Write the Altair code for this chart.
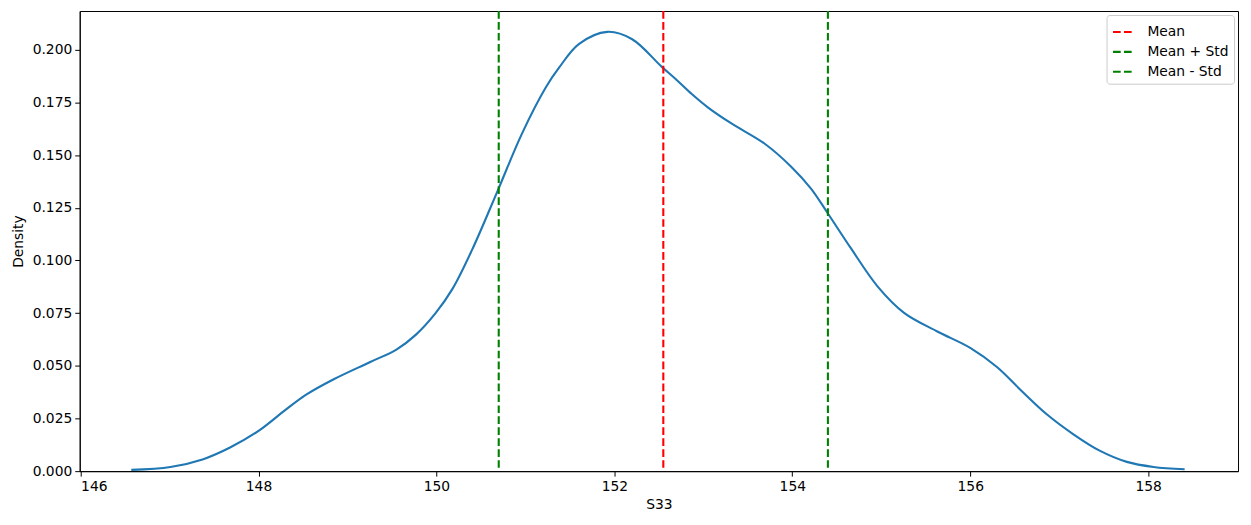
import altair as alt
import pandas as pd

# KDE curve of S33
s33 = [146.57, 147.01, 147.38, 147.68, 148.00, 148.31, 148.54, 148.84, 149.25,
       149.55, 149.77, 149.99, 150.18, 150.40, 150.69, 150.96, 151.23, 151.38,
       151.60, 151.92, 152.20, 152.53, 152.70, 152.87, 153.05, 153.32, 153.69,
       153.99, 154.21, 154.40, 154.66, 154.96, 155.26, 155.63, 156.00, 156.30,
       156.56, 156.86, 157.16, 157.46, 157.76, 158.06, 158.41]
density = [0.0006, 0.0020, 0.0057, 0.0112, 0.0191, 0.0293, 0.0364, 0.0435, 0.0517,
           0.0577, 0.0648, 0.0750, 0.0865, 0.1050, 0.1333, 0.1601, 0.1822, 0.1916,
           0.2027, 0.2085, 0.2050, 0.1920, 0.1857, 0.1790, 0.1727, 0.1649, 0.1554,
           0.1444, 0.1341, 0.1223, 0.1057, 0.0876, 0.0750, 0.0663, 0.0585, 0.0494,
           0.0388, 0.0270, 0.0175, 0.0096, 0.0044, 0.0020, 0.0009]

line_names = ["Mean", "Mean + Std", "Mean - Std"]
line_values = [152.55, 154.40, 150.70]
line_colors = ["red", "green", "green"]

x_ticks = [146, 148, 150, 152, 154, 156, 158]
y_ticks = [0.0, 0.025, 0.05, 0.075, 0.1, 0.125, 0.15, 0.175, 0.2]

kde_df = pd.DataFrame({"S33": s33, "Density": density})
rules_df = pd.DataFrame({"name": line_names, "value": line_values})

FONT = "DejaVu Sans"
FS = 13.9
xscale = alt.Scale(domain=[145.99, 159.01], nice=False, zero=False)
yscale = alt.Scale(domain=[0, 0.2184], nice=False)

curve = alt.Chart(kde_df).mark_line(
    color="#1f77b4", strokeWidth=2.1, interpolate="catmull-rom"
).encode(
    x=alt.X("S33:Q", scale=xscale,
            axis=alt.Axis(values=x_ticks, format="d", title="S33")),
    y=alt.Y("Density:Q", scale=yscale,
            axis=alt.Axis(values=y_ticks, format=".3f", title="Density")),
)

rules = alt.Chart(rules_df).mark_rule(
    strokeWidth=2.1, strokeDash=[7.7, 3.3]
).encode(
    x=alt.X("value:Q", scale=xscale),
    color=alt.Color(
        "name:N",
        scale=alt.Scale(domain=line_names, range=line_colors),
        legend=alt.Legend(
            title=None, orient="top-right", offset=4,
            symbolType="stroke", symbolSize=441, symbolStrokeWidth=2.1,
            symbolDash=[7.7, 3.3],
            labelFontSize=FS, labelFont=FONT, labelColor="black",
            labelOffset=12, rowPadding=1,
            fillColor="white", strokeColor="#cccccc", cornerRadius=3,
            padding=5,
        ),
    ),
)

chart = alt.layer(curve, rules).properties(
    width=1163, height=462,
    autosize=alt.AutoSizeParams(type="none"),
    padding={"left": 72, "top": 2, "right": 5, "bottom": 40},
).configure_view(
    stroke="black", strokeWidth=1
).configure_axis(
    grid=False,
    domainColor="black", domainWidth=1,
    tickColor="black", tickSize=5, tickWidth=1,
    labelFont=FONT, labelFontSize=FS, labelColor="black", labelPadding=3,
    titleFont=FONT, titleFontSize=FS, titleFontWeight="normal", titleColor="black",
).configure_axisY(
    titlePadding=7
).configure_axisX(
    titlePadding=5
)

chart.save("out.html", embed_options={"renderer": "svg", "actions": False})
